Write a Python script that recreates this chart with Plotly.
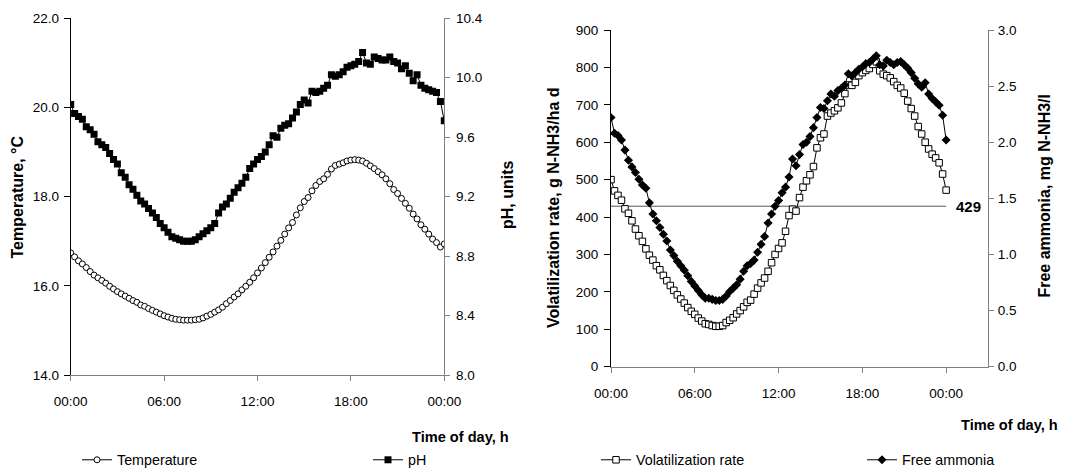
import plotly.graph_objects as go

# ---------------- data ----------------
hours = [i * 0.25 for i in range(97)]          # 00:00 .. 24:00, every 15 min
tick_hours = [0, 6, 12, 18, 24]
tick_labels = ["00:00", "06:00", "12:00", "18:00", "00:00"]

temperature = [16.74, 16.65, 16.56, 16.49, 16.41, 16.32, 16.24, 16.18, 16.12, 16.06,
               15.99, 15.93, 15.87, 15.82, 15.77, 15.72, 15.67, 15.63, 15.57, 15.54,
               15.49, 15.45, 15.41, 15.37, 15.33, 15.30, 15.27, 15.25, 15.24, 15.23,
               15.23, 15.23, 15.24, 15.25, 15.28, 15.32, 15.36, 15.41, 15.46, 15.52,
               15.60, 15.67, 15.75, 15.82, 15.91, 15.99, 16.08, 16.18, 16.29, 16.40,
               16.52, 16.64, 16.76, 16.89, 17.02, 17.16, 17.30, 17.42, 17.59, 17.75,
               17.89, 17.98, 18.13, 18.25, 18.34, 18.40, 18.50, 18.62, 18.70, 18.73,
               18.76, 18.80, 18.82, 18.83, 18.82, 18.80, 18.75, 18.69, 18.63, 18.56,
               18.49, 18.40, 18.29, 18.16, 18.07, 17.96, 17.85, 17.74, 17.61, 17.50,
               17.37, 17.27, 17.16, 17.05, 16.97, 16.87, 16.94]

ph = [9.82, 9.76, 9.74, 9.72, 9.67, 9.65, 9.62, 9.57, 9.55, 9.53,
      9.49, 9.45, 9.42, 9.36, 9.33, 9.28, 9.25, 9.21, 9.17, 9.15,
      9.12, 9.09, 9.06, 9.02, 8.99, 8.96, 8.93, 8.92, 8.91, 8.90,
      8.90, 8.90, 8.91, 8.93, 8.95, 8.97, 8.99, 9.02, 9.09, 9.13,
      9.15, 9.19, 9.23, 9.26, 9.29, 9.33, 9.39, 9.42, 9.45, 9.47,
      9.50, 9.55, 9.61, 9.60, 9.66, 9.68, 9.69, 9.73, 9.77, 9.82,
      9.85, 9.83, 9.91, 9.90, 9.91, 9.93, 9.95, 10.02, 10.01, 10.02,
      10.04, 10.07, 10.08, 10.09, 10.11, 10.17, 10.10, 10.09, 10.14, 10.13,
      10.12, 10.12, 10.14, 10.11, 10.10, 10.06, 10.08, 10.03, 9.98, 10.02,
      9.95, 9.93, 9.92, 9.91, 9.90, 9.84, 9.71]

volatilization = [500, 470, 458, 445, 422, 410, 390, 368, 350, 335,
                  315, 298, 285, 270, 259, 244, 230, 217, 204, 192,
                  181, 170, 158, 148, 140, 130, 122, 115, 113, 110,
                  108, 108, 110, 118, 124, 131, 141, 150, 160, 172,
                  178, 194, 210, 224, 237, 255, 278, 300, 316, 331,
                  362, 404, 421, 416, 452, 480, 497, 513, 535, 585,
                  612, 622, 670, 678, 684, 692, 705, 730, 753, 752,
                  760, 778, 786, 792, 797, 808, 815, 791, 782, 778,
                  772, 762, 752, 745, 731, 710, 690, 670, 642, 622,
                  600, 582, 568, 558, 545, 515, 472]

free_ammonia = [2.22, 2.08, 2.06, 2.02, 1.93, 1.84, 1.78, 1.73, 1.67, 1.62,
                1.59, 1.46, 1.36, 1.30, 1.24, 1.18, 1.12, 1.04, 0.99, 0.94,
                0.90, 0.86, 0.81, 0.76, 0.72, 0.68, 0.64, 0.61, 0.61, 0.60,
                0.59, 0.59, 0.60, 0.63, 0.67, 0.70, 0.73, 0.78, 0.85, 0.90,
                0.92, 0.95, 1.02, 1.09, 1.16, 1.28, 1.36, 1.43, 1.48, 1.55,
                1.60, 1.69, 1.85, 1.79, 1.89, 1.98, 2.00, 2.05, 2.13, 2.22,
                2.31, 2.30, 2.37, 2.43, 2.41, 2.46, 2.48, 2.51, 2.61, 2.59,
                2.62, 2.65, 2.67, 2.70, 2.71, 2.74, 2.77, 2.69, 2.68, 2.73,
                2.71, 2.69, 2.71, 2.72, 2.69, 2.66, 2.62, 2.57, 2.52, 2.49,
                2.53, 2.43, 2.39, 2.36, 2.33, 2.24, 2.02]

threshold_value = 429
threshold_hours = [0, 24]

# ---------------- style ----------------
W, H = 1068, 470
FONT = "Liberation Sans, Arial, sans-serif"
GRAY = "#808080"


def px(x):
    return x / W


def py(y):
    return 1 - y / H


fig = go.Figure()

fig.add_trace(go.Scatter(
    x=hours, y=temperature, name="Temperature", mode="lines+markers",
    line=dict(color="black", width=1),
    marker=dict(symbol="circle", size=6, color="white", line=dict(color="black", width=1)),
    xaxis="x", yaxis="y", legend="legend"))

fig.add_trace(go.Scatter(
    x=hours, y=ph, name="pH", mode="lines+markers",
    line=dict(color="black", width=1),
    marker=dict(symbol="square", size=7, color="black"),
    xaxis="x", yaxis="y2", legend="legend2"))

fig.add_trace(go.Scatter(
    x=threshold_hours, y=[threshold_value] * len(threshold_hours), mode="lines",
    line=dict(color="#555555", width=1), showlegend=False, hoverinfo="skip",
    xaxis="x2", yaxis="y3"))

fig.add_trace(go.Scatter(
    x=hours, y=volatilization, name="Volatilization rate", mode="lines+markers",
    line=dict(color="black", width=1),
    marker=dict(symbol="square", size=6.5, color="white", line=dict(color="black", width=1)),
    xaxis="x2", yaxis="y3", legend="legend3"))

fig.add_trace(go.Scatter(
    x=hours, y=free_ammonia, name="Free ammonia", mode="lines+markers",
    line=dict(color="black", width=1),
    marker=dict(symbol="diamond", size=7, color="black"),
    xaxis="x2", yaxis="y4", legend="legend4"))

tickfont = dict(family=FONT, size=13.5, color="black")

xcommon = dict(tickvals=tick_hours, ticktext=tick_labels, ticks="outside", ticklen=5,
               tickcolor=GRAY, showline=True, linecolor=GRAY, linewidth=1,
               showgrid=False, zeroline=False, tickfont=tickfont, ticklabelstandoff=9,
               automargin=False)
ycommon = dict(showgrid=False, zeroline=False, automargin=False, linewidth=1)

L_dom_x = [px(70.7), px(444.3)]
L_dom_y = [py(375), py(18.3)]
R_dom_x = [px(611), px(988)]
R_dom_y = [py(366.7), py(30)]

fig.update_layout(
    width=W, height=H, margin=dict(l=0, r=0, t=0, b=0, autoexpand=False),
    paper_bgcolor="white", plot_bgcolor="white",
    xaxis=dict(domain=L_dom_x, range=[0, 24], anchor="y", **xcommon),
    yaxis=dict(domain=L_dom_y, range=[14, 22], dtick=2, tickformat=".1f",
               ticks="outside", ticklen=6, tickcolor="black", showline=True,
               linecolor="black", tickfont=tickfont, anchor="x",
               ticklabelstandoff=2, **ycommon),
    yaxis2=dict(overlaying="y", side="right", range=[8, 10.4], dtick=0.4,
                tickformat=".1f", ticks="outside", ticklen=5, tickcolor=GRAY,
                showline=True, linecolor=GRAY, tickfont=tickfont, anchor="x",
                ticklabelstandoff=3, **ycommon),
    yaxis5=dict(overlaying="y", side="right", range=[8, 10.4], dtick=0.4,
                ticks="inside", ticklen=5, tickcolor=GRAY, showline=False,
                showticklabels=False, anchor="x", **ycommon),
    xaxis2=dict(domain=R_dom_x, range=[0, 27], anchor="y3", **xcommon),
    yaxis3=dict(domain=R_dom_y, range=[0, 900], dtick=100,
                ticks="outside", ticklen=6, tickcolor="black", showline=True,
                linecolor="black", tickfont=tickfont, anchor="x2",
                ticklabelstandoff=3, **ycommon),
    yaxis4=dict(overlaying="y3", side="right", range=[0, 3], dtick=0.5,
                tickformat=".1f", ticks="outside", ticklen=5, tickcolor=GRAY,
                showline=True, linecolor=GRAY, tickfont=tickfont, anchor="x2",
                ticklabelstandoff=1, **ycommon),
    yaxis6=dict(overlaying="y3", side="right", range=[0, 3], dtick=0.5,
                ticks="inside", ticklen=5, tickcolor=GRAY, showline=False,
                showticklabels=False, anchor="x2", **ycommon),
    showlegend=True,
)

legend_common = dict(orientation="h", font=dict(family=FONT, size=14.3, color="black"),
                     bgcolor="rgba(0,0,0,0)", borderwidth=0, itemwidth=30,
                     yanchor="middle", xanchor="left", tracegroupgap=0)
fig.update_layout(
    legend=dict(x=px(77), y=py(460), **legend_common),
    legend2=dict(x=px(368), y=py(460), **legend_common),
    legend3=dict(x=px(596), y=py(460), **legend_common),
    legend4=dict(x=px(862), y=py(460), **legend_common),
)

title_bold = dict(family=FONT, size=16, color="black")
ann = [
    dict(text="<b>Temperature, °C</b>", x=px(16.5), y=py(197), textangle=-90, font=title_bold),
    dict(text="<b>pH, units</b>", x=px(507), y=py(195), textangle=-90, font=title_bold),
    dict(text="<b>Volatilization rate, g N-NH3/ha d</b>", x=px(553.6), y=py(207.5),
         textangle=-90, font=title_bold),
    dict(text="<b>Free ammonia, mg N-NH3/l</b>", x=px(1044.6), y=py(196),
         textangle=-90, font=title_bold),
    dict(text="<b>Time of day, h</b>", x=px(511.4), y=py(436.7), xanchor="right",
         font=dict(family=FONT, size=14.6, color="black")),
    dict(text="<b>Time of day, h</b>", x=px(1060.2), y=py(425), xanchor="right",
         font=dict(family=FONT, size=14.6, color="black")),
]
for a in ann:
    a.update(xref="paper", yref="paper", showarrow=False,
             xanchor=a.get("xanchor", "center"), yanchor="middle")
    fig.add_annotation(**a)

fig.add_annotation(text="<b>%d</b>" % threshold_value, x=24.55, y=threshold_value,
                   xref="x2", yref="y3", xanchor="left", yanchor="middle", showarrow=False,
                   font=dict(family=FONT, size=15, color="black"))

fig.write_html("out.html",
               config={"displayModeBar": False},
               post_script="document.body.style.margin='0';"
                           "document.body.style.overflow='hidden';")
